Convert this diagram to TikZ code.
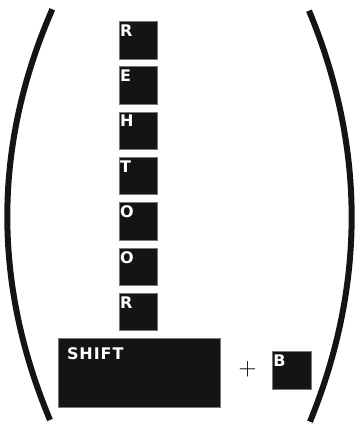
\documentclass[tikz,border=0pt]{standalone}
\usepackage{fontspec}
\newfontfamily\keyfont[LetterSpace=6]{DejaVu Sans}
\definecolor{keyblack}{RGB}{20,20,20}
\definecolor{keyedge}{RGB}{120,120,120}
\tikzset{keybase/.style={x=1pt,y=-1pt},
  key/.style={draw=keyedge,line width=0.6pt,fill=keyblack,inner sep=0pt,anchor=north west},
  keylabel/.style={anchor=north west,inner sep=0pt,text=white,font=\keyfont\bfseries\fontsize{16}{16}\selectfont},
  paren/.style={line width=6pt,keyblack}}

\begin{document}
\begin{tikzpicture}[keybase]
    \useasboundingbox (0,0) rectangle (364,424);
    % letter keys, top to bottom
    \foreach \c [count=\i from 0] in {R,E,H,T,O,O,R}
      \node[key,minimum width=38pt,minimum height=37.5pt,
        label={[keylabel,xshift=1pt,yshift=-3.5pt]north west:\c}] (key\i) at (119,{21+45.3*\i}) {};
    \node[key,minimum width=162pt,minimum height=69pt,
      label={[keylabel,xshift=8.5pt,yshift=-9.5pt]north west:SHIFT}] (shift) at (58.3,337.7) {};
    \node[font=\fontsize{34}{34}\selectfont] (plus) at (247.7,369.3) {$+$};
    \node[key,minimum width=39pt,minimum height=37.5pt,
      label={[keylabel,xshift=1.5pt,yshift=-3.5pt]north west:B}] (keyb) at (271.7,351) {};
    % brackets
    \draw[paren] (52.3,9.3) .. controls (-7.3,146) and (-7.3,283) .. (50,420);
    \draw[paren] (309,10.7) .. controls (365.7,147) and (365.7,285) .. (310,421.7);
  \end{tikzpicture}
\end{document}
